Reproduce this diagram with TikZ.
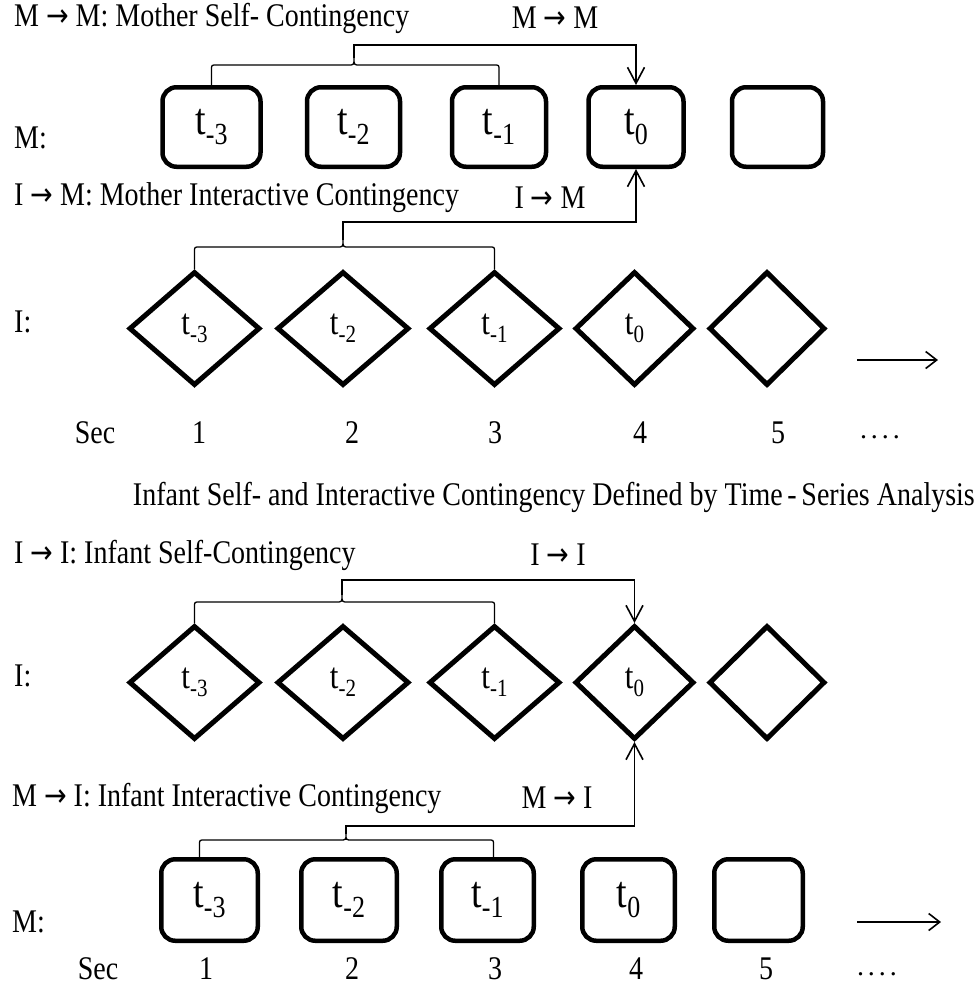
\documentclass[tikz,border=0pt]{standalone}
\usepackage{fontspec}
\usepackage{graphicx}
\setmainfont{Liberation Serif}
\newfontfamily\arrowfont{DejaVu Sans}
\usetikzlibrary{shapes.geometric,arrows.meta,calc}
\newcommand\st[1]{\scalebox{1}[1.18]{#1}}
\newcommand\ar{{\arrowfont\fontsize{27}{27}\selectfont →}}
\newcommand\tb[1]{\st{\fontsize{38}{38}\selectfont t\raisebox{-0.22em}{\fontsize{26}{26}\selectfont #1}}}
\newcommand\td[1]{\st{\fontsize{31}{31}\selectfont t\raisebox{-0.22em}{\fontsize{21}{21}\selectfont #1}}}
\newcommand\drawbrace[4]{%
  \draw[brace] (#1) -- ($(#1 |- 0,#4)+(0,5)$) .. controls (#1 |- 0,#4) .. ($(#1 |- 0,#4)+(5,0)$)
    -- ($(#3 |- 0,#4)+(-6,0)$) .. controls (#3 |- 0,#4) .. (#3)
    .. controls (#3 |- 0,#4) .. ($(#3 |- 0,#4)+(6,0)$)
    -- ($(#2 |- 0,#4)+(-5,0)$) .. controls (#2 |- 0,#4) .. ($(#2 |- 0,#4)+(0,5)$) -- (#2);}
\tikzset{
  mbox/.style={draw, line width=4.5pt, rounded corners=14pt, inner sep=0pt},
  dbox/.style={draw, diamond, line width=5pt, inner sep=0pt, minimum height=114pt},
  lbl/.style={inner sep=0pt, font=\fontsize{28}{33}\selectfont},
  conn/.style={line width=1.6pt},
  brace/.style={line width=1.3pt},
  tip/.style={-{Straight Barb[length=16pt,width=17pt]}},
  rtip/.style={-{Straight Barb[length=11pt,width=17pt]}}
}
\begin{document}
\begin{tikzpicture}[x=1pt,y=-1pt]
\fill[white] (0,0) rectangle (977,989);
\useasboundingbox (0,0) rectangle (977,989);
% ---------- top: mother row ----------
\node[mbox, minimum width=98pt, minimum height=79.5pt] (m1) at (211.5,127) {\tb{-3}};
\node[mbox, minimum width=93pt, minimum height=79.5pt] (m2) at (353.5,127) {\tb{-2}};
\node[mbox, minimum width=94pt, minimum height=79.5pt] (m3) at (499,127) {\tb{-1}};
\node[mbox, minimum width=95pt, minimum height=79.5pt] (m4) at (636,127) {\tb{0}};
\node[mbox, minimum width=91pt, minimum height=79.5pt] (m5) at (777.5,127) {};
% ---------- top: infant row ----------
\node[dbox, minimum width=131pt] (i1) at (194.5,328.5) {\td{-3}};
\node[dbox, minimum width=132pt] (i2) at (343,328.5) {\td{-2}};
\node[dbox, minimum width=131pt] (i3) at (494.5,328.5) {\td{-1}};
\node[dbox, minimum width=119pt] (i4) at (634.5,328.5) {\td{0}};
\node[dbox, minimum width=116pt] (i5) at (767,328.5) {};
% ---------- bottom: infant row ----------
\node[dbox, minimum width=131pt] (j1) at (194.5,682.5) {\td{-3}};
\node[dbox, minimum width=132pt] (j2) at (343,682.5) {\td{-2}};
\node[dbox, minimum width=131pt] (j3) at (494.5,682.5) {\td{-1}};
\node[dbox, minimum width=119pt] (j4) at (634.5,682.5) {\td{0}};
\node[dbox, minimum width=116pt] (j5) at (767,682.5) {};
% ---------- bottom: mother row ----------
\node[mbox, minimum width=96.5pt, minimum height=81.5pt] (b1) at (209.5,900) {\tb{-3}};
\node[mbox, minimum width=95.5pt, minimum height=81.5pt] (b2) at (349,900) {\tb{-2}};
\node[mbox, minimum width=92.5pt, minimum height=81.5pt] (b3) at (487.5,900) {\tb{-1}};
\node[mbox, minimum width=92.5pt, minimum height=81.5pt] (b4) at (628.5,900) {\tb{0}};
\node[mbox, minimum width=88.5pt, minimum height=81.5pt] (b5) at (758.5,900) {};
% ---------- labels ----------
\node[lbl, anchor=west] (h1) at (14,18) {\st{M \ar{} M: Mother Self- Contingency}};
\node[lbl] (h1r) at (555,18) {\st{M \ar{} M}};
\node[lbl, anchor=west] (lm1) at (14,138) {\st{M:}};
\node[lbl, anchor=west] (h2) at (14,198) {\st{I \ar{} M: Mother Interactive Contingency}};
\node[lbl] (h2r) at (550,198) {\st{I \ar{} M}};
\node[lbl, anchor=west] (li1) at (14,322) {\st{I:}};
\node[lbl] (sa0) at (95,433) {\st{Sec}};
\node[lbl] (sa1) at (199,433) {\st{1}};
\node[lbl] (sa2) at (352,433) {\st{2}};
\node[lbl] (sa3) at (495,433) {\st{3}};
\node[lbl] (sa4) at (640,433) {\st{4}};
\node[lbl] (sa5) at (778,433) {\st{5}};
\node[lbl] (sa6) at (880,437) {.\hspace{4pt}.\hspace{4pt}.\hspace{4pt}.};
\node[lbl, anchor=east] (mid) at (975,497) {\st{Infant Self- and Interactive Contingency Defined by Time\,-\,Series Analysis}};
\node[lbl, anchor=west] (h3) at (14,555) {\st{I \ar{} I: Infant Self-Contingency}};
\node[lbl] (h3r) at (558,555) {\st{I \ar{} I}};
\node[lbl, anchor=west] (li2) at (14,676) {\st{I:}};
\node[lbl, anchor=west] (h4) at (12,798) {\st{M \ar{} I: Infant Interactive Contingency}};
\node[lbl] (h4r) at (557,798) {\st{M \ar{} I}};
\node[lbl, anchor=west] (lm2) at (12,922) {\st{M:}};
\node[lbl] (sb0) at (98,969) {\st{Sec}};
\node[lbl] (sb1) at (206,969) {\st{1}};
\node[lbl] (sb2) at (352,969) {\st{2}};
\node[lbl] (sb3) at (495,969) {\st{3}};
\node[lbl] (sb4) at (636,969) {\st{4}};
\node[lbl] (sb5) at (766,969) {\st{5}};
\node[lbl] (sb6) at (877,974) {.\hspace{4pt}.\hspace{4pt}.\hspace{4pt}.};
% ---------- time arrows ----------
\coordinate (ta1) at (857,360); \coordinate (ta2) at (938,360);
\draw[conn, rtip] (ta1) -- (ta2);
\coordinate (tb1) at (857,922); \coordinate (tb2) at (941,922);
\draw[conn, rtip] (tb1) -- (tb2);
% ---------- braces and connectors ----------
\coordinate (k1) at (354,58);
\drawbrace{m1.north}{m3.north}{k1}{65}
\draw[conn, tip] (k1) -- (k1 |- 0,45) -| (m4.north);
\coordinate (k2) at (343,240);
\drawbrace{i1.north}{i3.north}{k2}{247}
\draw[conn, tip] (k2) -- (k2 |- 0,222) -| (m4.south);
\coordinate (k3) at (342,595);
\drawbrace{j1.north}{j3.north}{k3}{602}
\draw[conn, tip] (k3) -- (k3 |- 0,580) -| (j4.north);
\coordinate (bl) at ([xshift=-10pt]b1.north);
\coordinate (br) at ([xshift=6pt]b3.north);
\coordinate (k4) at (346,834);
\drawbrace{bl}{br}{k4}{840}
\draw[conn, tip] (k4) -- (k4 |- 0,826) -| (j4.south);
\end{tikzpicture}
\end{document}
